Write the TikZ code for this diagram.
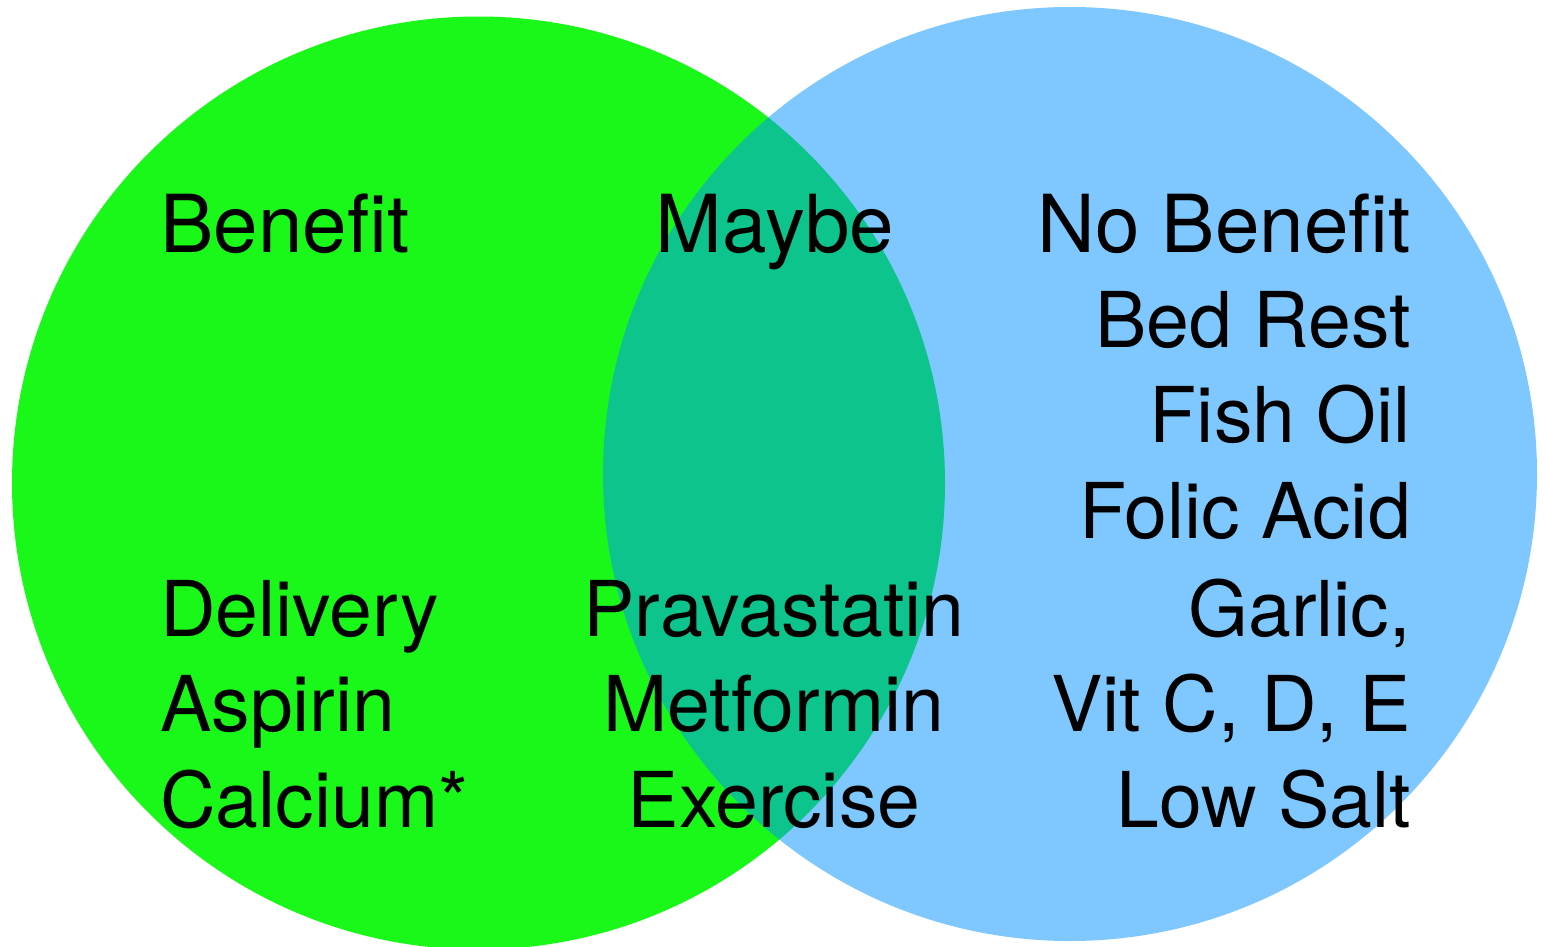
\documentclass[tikz,border=0pt]{standalone}
\usepackage{fontspec}
\setmainfont{TeX Gyre Heros}
\definecolor{vgreen}{RGB}{26,248,26}
\definecolor{vblue}{RGB}{0,145,255}
\begin{document}
\begin{tikzpicture}[x=1pt,y=-1pt,
  lbl/.style={inner sep=0pt,font=\fontsize{80}{96}\selectfont},
  itm/.style={inner sep=0pt,font=\fontsize{77}{96}\selectfont},
  hw/.style={lbl,anchor=base west},
  hc/.style={lbl,anchor=base},
  he/.style={lbl,anchor=base east},
  lw/.style={itm,anchor=base west},
  lc/.style={itm,anchor=base},
  le/.style={itm,anchor=base east}]
\useasboundingbox (0,0) rectangle (1545,946);
\begin{scope}
\clip (0,0) rectangle (1545,946);
\fill[vgreen] (478.5,483) circle[radius=466.5];
\fill[vblue,fill opacity=0.5] (1070,474) circle[radius=467];
\end{scope}
% headers
\node[hw] (hb) at (160,252) {Benefit};
\node[hc] (hm) at (775,252) {Maybe};
\node[he] (hn) at (1411,252) {No Benefit};
% benefit
\node[lw] (b1) at (160,636) {Delivery};
\node[lw] (b2) at (160,731) {Aspirin};
\node[lw] (b3) at (160,827) {Calcium*};
% maybe
\node[lc] (m1) at (774,636) {Pravastatin};
\node[lc] (m2) at (774,731) {Metformin};
\node[lc] (m3) at (774,827) {Exercise};
% no benefit
\node[le] (n1) at (1411,347) {Bed Rest};
\node[le] (n2) at (1411,442) {Fish Oil};
\node[le] (n3) at (1411,538) {Folic Acid};
\node[le] (n4) at (1411,636) {Garlic,};
\node[le] (n5) at (1411,731) {Vit C, D, E};
\node[le] (n6) at (1411,827) {Low Salt};
\end{tikzpicture}
\end{document}
